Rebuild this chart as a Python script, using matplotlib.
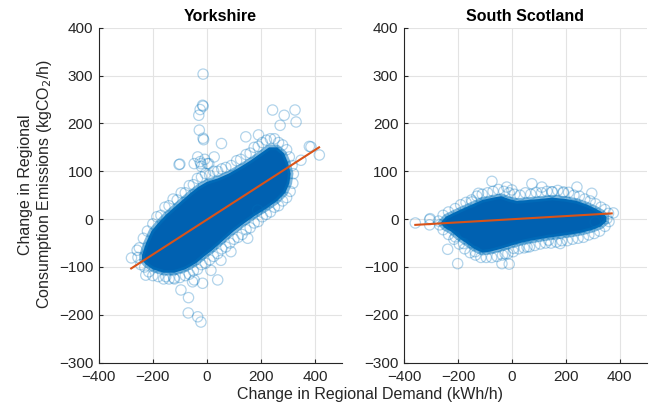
import matplotlib
matplotlib.use("Agg")
import matplotlib.pyplot as plt

plt.rcParams["font.family"] = ["Liberation Sans", "DejaVu Sans"]

# Panel titles and axis text
titles = ["Yorkshire", "South Scotland"]
x_label = "Change in Regional Demand (kWh/h)"
y_label = "Change in Regional\nConsumption Emissions (kgCO$_2$/h)"
x_ticks = [-400, -200, 0, 200, 400]
y_ticks = [-300, -200, -100, 0, 100, 200, 300, 400]

# Yorkshire: outline of the saturated point cloud
york_core_x = [-240, -225, -205, -180, -150, -120, -90, -60, -30, 0, 40, 80, 120, 160, 200, 230,
               260, 285, 300, 310,
               305, 290, 260, 220, 180, 140, 100, 60, 20, -10, -40, -80, -120, -160, -200, -225, -240]
york_core_y = [-75, -50, -25, -8, 10, 25, 40, 55, 68, 78, 85, 95, 108, 122, 138, 150,
               150, 138, 118, 95,
               75, 55, 38, 22, 8, -8, -25, -45, -65, -78, -92, -105, -112, -112, -105, -95, -85]

# Yorkshire: individual points around the cloud edge, then outliers
york_x = [-250, -235, -220, -200, -185, -170, -155, -140, -125, -110, -95, -80, -65, -50, -35,
          -20, -5, 10, 25, 40, 55, 70, 90, 110, 125, 145, 160, 175, 190, 205, 220, 235, 250, 265,
          280, 295, 305, 315, 320,
          318, 308, 295, 280, 265, 250, 235, 220, 205, 190, 175, 160, 145, 130, 115, 100, 85, 70,
          55, 40, 25, 10, -5, -20, -35, -50, -65, -80, -100, -120, -140, -160, -180, -200, -215,
          -230, -245, -255, -258,
          -14, -25, -30, -14, -28, -14, -100, 54, 144, 191, 243, 286, 326, 330, 416, 385, 348,
          27, -22, 7, -279, -226, -96, -68, -69, -34, -22, -47, -16, 40, 89, 151, 188, -122,
          -152, 15, 52, -53, -16, -12, 271, 379, -103, -47, 2, -34, -20, -25, -8]
york_y = [-60, -40, -25, -10, 5, 8, 25, 28, 42, 40, 55, 55, 70, 72, 85,
          88, 95, 92, 100, 100, 105, 108, 112, 122, 125, 135, 138, 150, 152, 160, 165, 168, 168, 160,
          155, 145, 130, 112, 95,
          75, 58, 45, 38, 28, 25, 15, 10, 5, -5, -8, -18, -22, -32, -38, -42, -50, -58,
          -62, -72, -78, -85, -92, -95, -105, -108, -115, -118, -122, -125, -125, -125, -120, -118, -110,
          -100, -95, -80, -65,
          303, 229, 217, 236, 186, 169, 115, 158, 172, 176, 228, 217, 228, 203, 134, 151, 123,
          130, 116, 116, -81, -117, -148, -164, -196, -204, -215, -127, -134, -127, -68, -40, 19, -123,
          -120, -107, -86, -131, 238, 166, 196, 152, 114, 116, 116, 130, 110, 120, 125]

# South Scotland: outline of the saturated point cloud
scot_core_x = [-265, -245, -220, -190, -150, -110, -70, -40, -10, 20, 60, 100, 150, 200, 240,
               280, 310, 335, 350,
               350, 330, 300, 260, 220, 170, 120, 70, 30, 0, -40, -80, -110, -140, -170, -200,
               -225, -250]
scot_core_y = [-8, 5, 12, 20, 30, 40, 45, 48, 42, 38, 40, 42, 45, 42, 38,
               30, 22, 14, 5,
               -5, -15, -22, -28, -32, -36, -40, -45, -50, -55, -62, -68, -70, -62, -50, -38,
               -26, -18]

# South Scotland: individual points around the cloud edge, then outliers
scot_x = [-255, -235, -210, -190, -170, -150, -130, -110, -90, -70, -50, -30, -10, 10, 30, 50,
          70, 90, 110, 130, 150, 170, 190, 210, 230, 250, 270, 290, 310, 330, 345, 358,
          360, 345, 325, 305, 285, 265, 245, 225, 205, 185, 165, 145, 125, 105, 85, 65, 45, 25,
          5, -15, -35, -55, -75, -95, -115, -135, -155, -175, -195, -215, -235, -255, -268,
          -358, -305, -305, -272, -238, -201, -210, -179, -136, -37, -10, -25, 6, 56, 179, 136,
          309, 376, 352, -74, -124, 74, 111, 241, 296, 0, -19, 148, 191, -148, -303]
scot_y = [8, 15, 22, 30, 35, 40, 48, 52, 55, 58, 62, 58, 55, 52, 50, 55,
          52, 56, 55, 58, 57, 60, 55, 56, 50, 48, 42, 38, 32, 25, 20, 12,
          -5, -15, -25, -30, -33, -38, -40, -42, -45, -45, -48, -50, -50, -52, -55, -58, -60, -62,
          -68, -72, -75, -78, -80, -80, -80, -75, -70, -62, -52, -42, -32, -22, -12,
          -8, -1, -12, -4, -63, -93, -37, -51, -68, -93, -94, -72, -61, -58, -51, -44,
          -6, 13, 1, 79, 54, 74, 67, 67, 54, 61, 67, 57, 57, 36, 1]

# Least-squares fit lines (end points)
york_fit_x = [-280, 415]
york_fit_y = [-103, 150]
scot_fit_x = [-358, 370]
scot_fit_y = [-12, 12]

ring_color = (0.0, 0.447, 0.741, 0.3)
core_color = "#0061b1"
fit_color = "#d95319"
axis_color = "#262626"

fig = plt.figure(figsize=(6.54, 4.05), dpi=100)
ax_l = fig.add_axes([0.151, 0.1044, 0.372, 0.8272])
ax_r = fig.add_axes([0.6177, 0.1044, 0.3713, 0.8272])

panels = [
    (ax_l, york_core_x, york_core_y, york_x, york_y, york_fit_x, york_fit_y),
    (ax_r, scot_core_x, scot_core_y, scot_x, scot_y, scot_fit_x, scot_fit_y),
]

for (ax, cx, cy, px, py, fx, fy), title in zip(panels, titles):
    ax.fill(cx, cy, color=core_color, edgecolor=(0.0, 0.447, 0.741, 0.5),
            linewidth=4, zorder=2)
    ax.scatter(px, py, s=55, facecolors="none", edgecolors=ring_color,
               linewidths=0.9, zorder=3)
    ax.plot(fx, fy, color=fit_color, linewidth=1.5, zorder=4)

    ax.set_xlim(-400, 500)
    ax.set_ylim(-300, 400)
    ax.set_xticks(x_ticks)
    ax.set_yticks(y_ticks)
    ax.grid(True, color="#e3e3e3", linewidth=0.8, zorder=0)
    ax.set_axisbelow(True)
    for side in ("top", "right"):
        ax.spines[side].set_visible(False)
    for side in ("left", "bottom"):
        ax.spines[side].set_color(axis_color)
        ax.spines[side].set_linewidth(0.8)
    ax.tick_params(direction="in", length=3, width=0.8, color=axis_color,
                   labelcolor=axis_color, labelsize=11)
    ax.tick_params(axis="x", pad=5)
    ax.tick_params(axis="y", pad=4)
    ax.set_title(title, fontsize=11.5, fontweight="bold", color="black", pad=5)

fig.text(0.566, 0.025, x_label, ha="center", va="center", fontsize=11.5, color=axis_color)
fig.text(0.055, 0.545, y_label, ha="center", va="center", rotation=90,
         fontsize=11.5, color=axis_color, linespacing=1.15)

fig.savefig("out.png", dpi=100)
